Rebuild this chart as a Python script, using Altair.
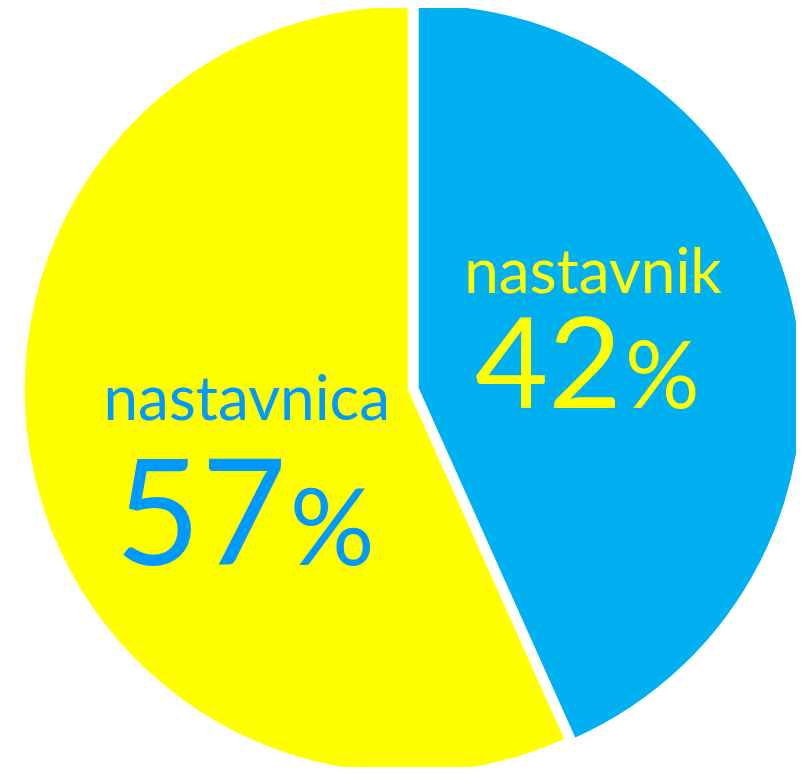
import altair as alt
import pandas as pd

categories = ["nastavnik", "nastavnica"]
shares = [43.3, 56.7]          # slice sizes (angles)
numbers = ["42", "57"]         # printed percentages
order_idx = [0, 1]

df = pd.DataFrame({"category": categories, "share": shares,
                   "number": numbers, "idx": order_idx})

W, H = 788, 759
R = 383
theta_scale = alt.Scale(domain=[0, sum(shares)])

base = alt.Chart(df).transform_window(
    cum="sum(share)", sort=[alt.SortField("idx")], frame=[None, 0]
).transform_calculate(
    start="datum.cum - datum.share",
    mid="datum.cum - datum.share / 2",
)


def arc(cat, color, cx, cy):
    return base.transform_filter(alt.datum.category == cat).mark_arc(
        radius=R, fill=color, strokeWidth=0
    ).encode(
        theta=alt.Theta("start:Q", scale=theta_scale, stack=None),
        theta2="cum:Q",
        x=alt.value(cx),
        y=alt.value(cy),
    )


def label(cat, field, color, size, r, dx, dy, align, prefix=None):
    m = base.transform_filter(alt.datum.category == cat)
    if prefix is not None:
        m = m.transform_calculate(t=f"'{prefix}'")
        fld = "t:N"
    else:
        fld = field
    return m.mark_text(
        font="Lato", fontSize=size, color=color, align=align,
        baseline="alphabetic", dx=dx, dy=dy
    ).encode(
        theta=alt.Theta("mid:Q", scale=theta_scale, stack=None),
        radius=alt.value(r),
        text=fld,
    )


blue = "#00B0F0"
yellow = "#FFFF00"
blue_txt = "#0099FF"

chart = alt.layer(
    arc("nastavnica", yellow, 399.7, 381.5),
    arc("nastavnik", blue, 410.7, 380),
    label("nastavnik", "category:N", yellow, 62, 180, 15, -57, "center"),
    label("nastavnik", "number:N", yellow, 127, 180, 44, 58, "right"),
    label("nastavnik", None, yellow, 93, 180, 47, 58, "left", prefix="%"),
    label("nastavnica", "category:N", blue_txt, 62, 170, 11, -3, "center"),
    label("nastavnica", "number:N", blue_txt, 148, 170, 51, 142, "right"),
    label("nastavnica", None, blue_txt, 106, 170, 54, 142, "left", prefix="%"),
).properties(
    width=W, height=H, padding=0,
    autosize=alt.AutoSizeParams(type="none"),
    background="white",
).configure_view(stroke=None)

chart.save("out.html", embed_options={"renderer": "svg", "actions": False})
